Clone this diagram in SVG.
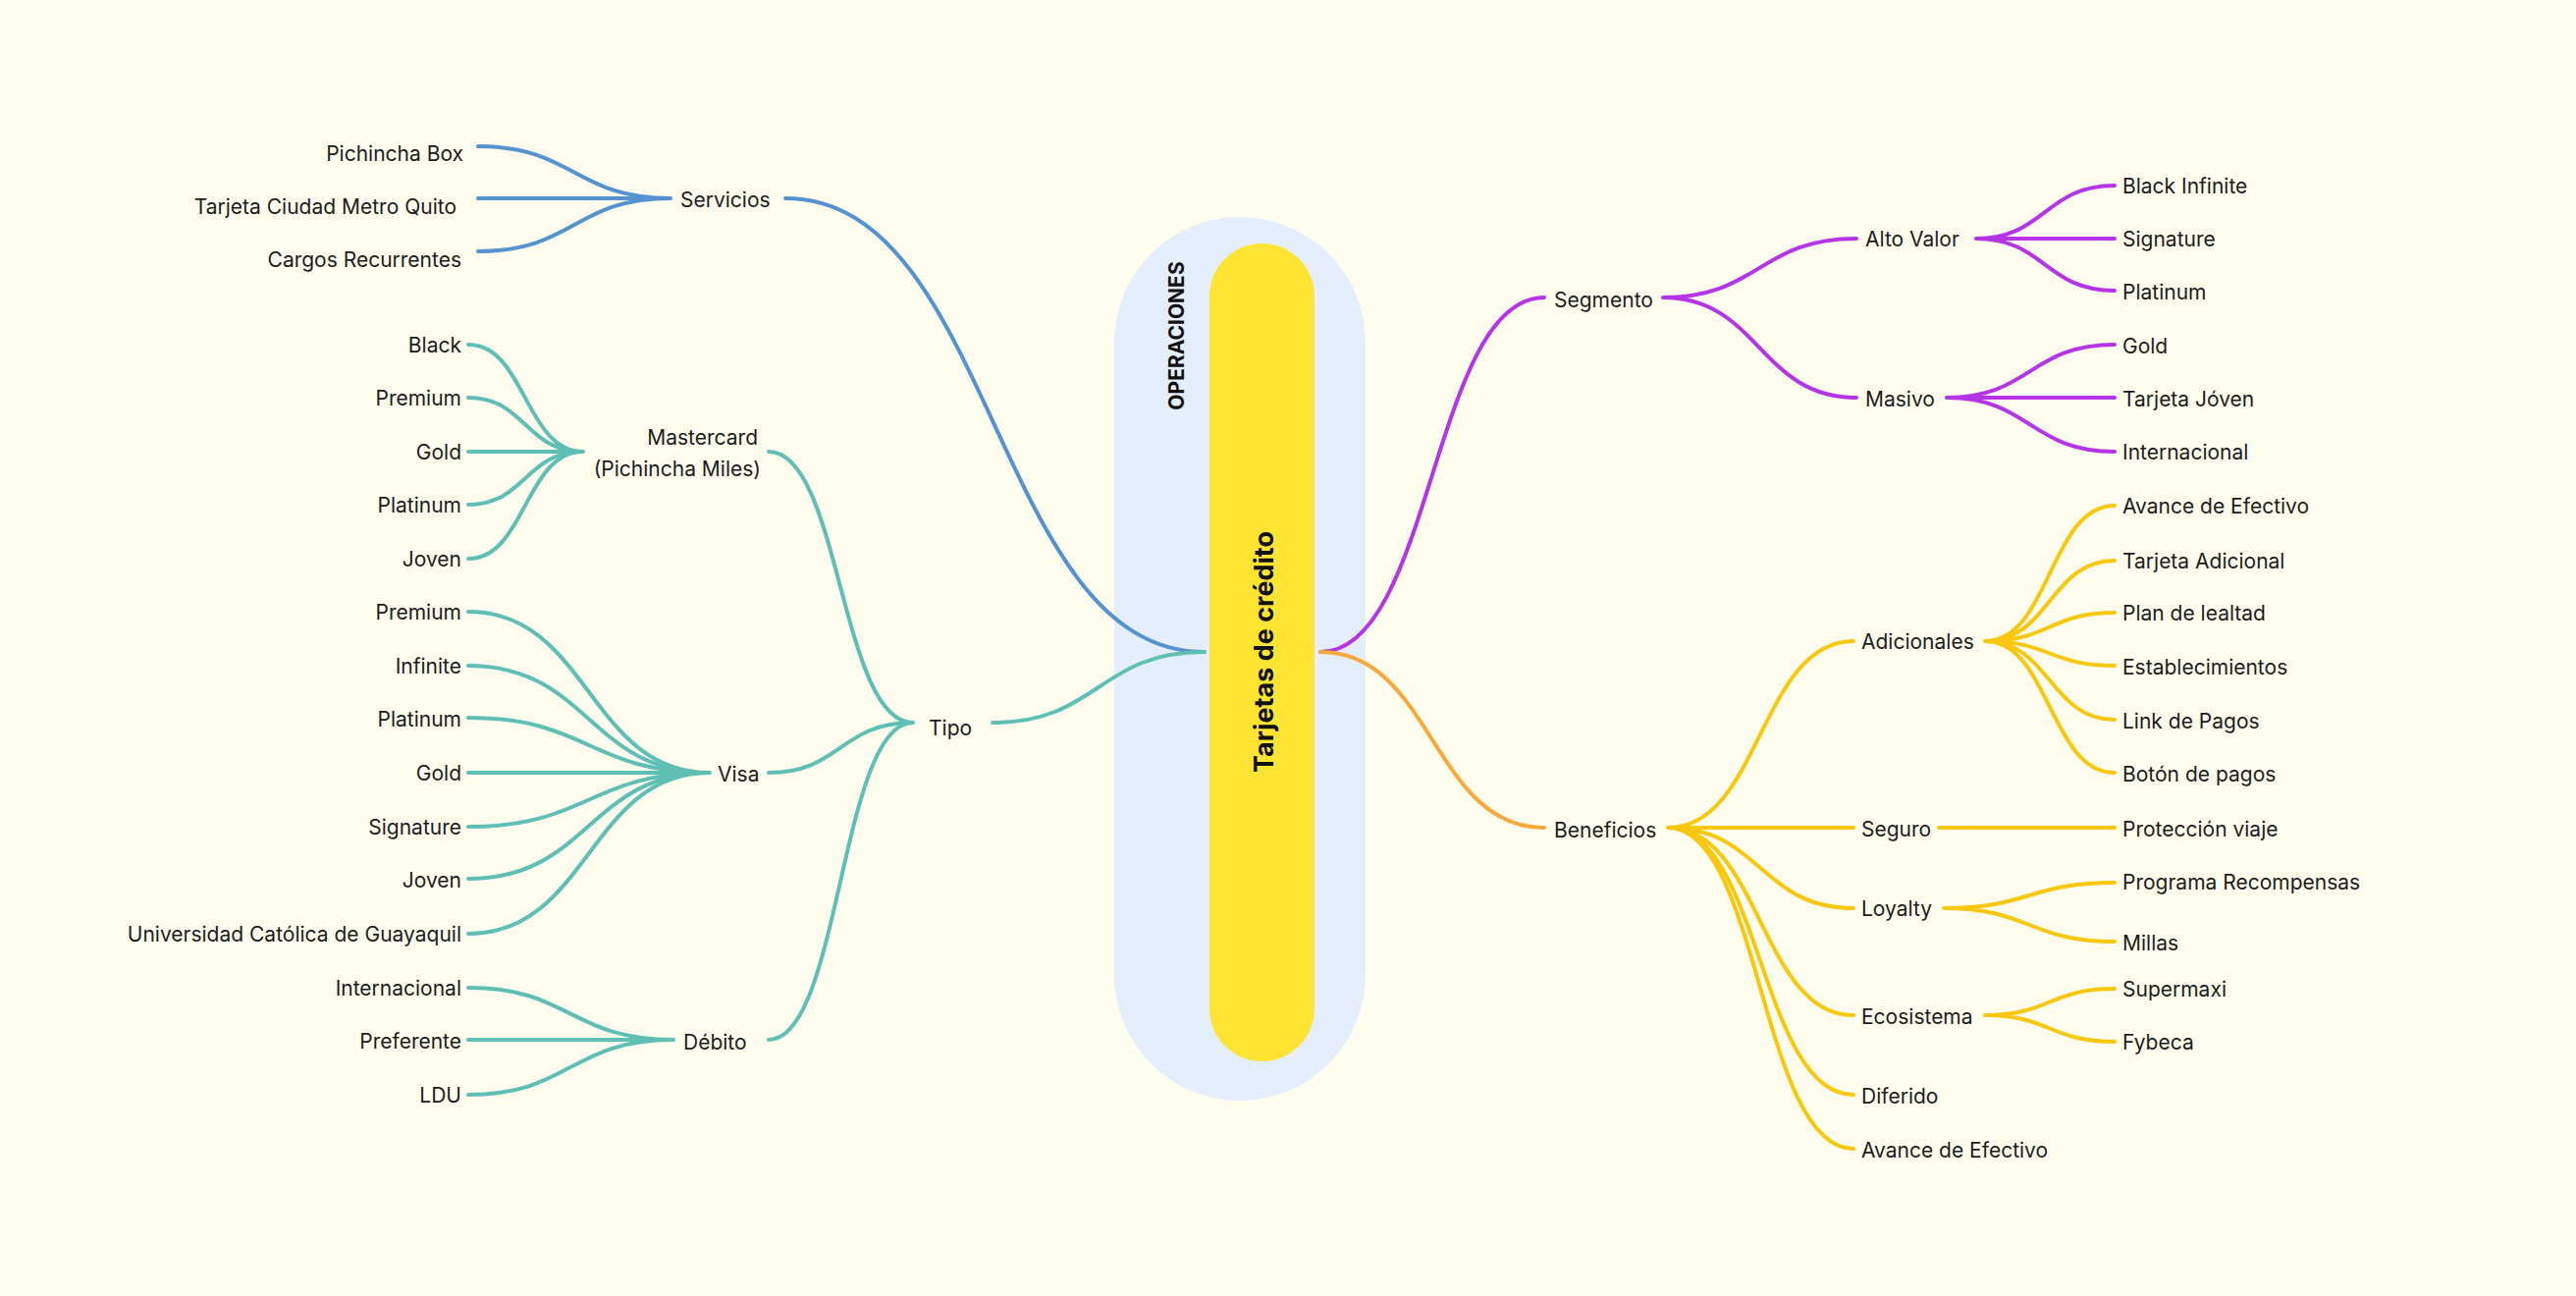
<svg xmlns="http://www.w3.org/2000/svg" width="2624" height="1320" viewBox="0 0 2624 1320">
<style>
.t{font-family:Inter,"Noto Sans","Liberation Sans",sans-serif;font-size:21px;fill:#1c1c1c;dominant-baseline:central}
.e{text-anchor:end}
path{fill:none;stroke-width:4;stroke-linecap:round}
.b{stroke:#5592D0}.g{stroke:#5FBFB5}.p{stroke:#B535E6}.o{stroke:#F9A93A}.y{stroke:#F9C80E}
</style>
<rect width="2624" height="1320" fill="#FEFDEE"/>
<g id="center">
<rect x="1135" y="221" width="256" height="900" rx="128" fill="#E5EEFC"/>
<rect x="1232" y="248" width="107" height="833" rx="53.5" fill="#FFE433"/>
<text transform="translate(1198,342) rotate(-90)" text-anchor="middle" dominant-baseline="central" font-family="Inter,'Liberation Sans',sans-serif" font-weight="700" font-size="21" fill="#111">OPERACIONES</text>
<text transform="translate(1287,664) rotate(-90)" text-anchor="middle" dominant-baseline="central" font-family="Inter,'Liberation Sans',sans-serif" font-weight="700" font-size="27" fill="#111">Tarjetas de crédito</text>
</g>
<g id="connectors">
<path class="b" d="M487 149C585 149 585 202 683 202M487 202H683M487 256C585 256 585 202 683 202M800 202C1013 202 1013 664 1227 664"/>
<path class="g" d="M477 351C535 351 535 460 594 460M477 405C535 405 535 460 594 460M477 460H594M477 514C535 514 535 460 594 460M477 569C535 569 535 460 594 460"/>
<path class="g" d="M477 623C600 623 600 787 723 787M477 678C600 678 600 787 723 787M477 731C600 731 600 787 723 787M477 787H723M477 842C600 842 600 787 723 787M477 895C600 895 600 787 723 787M477 951C600 951 600 787 723 787"/>
<path class="g" d="M477 1006C581 1006 581 1059 686 1059M477 1059H686M477 1115C581 1115 581 1059 686 1059"/>
<path class="g" d="M783 460C856 460 856 736 930 736M783 787C856 787 856 736 930 736M783 1059C856 1059 856 736 930 736M1011 736C1119 736 1119 664 1227 664"/>
<path class="p" d="M1345 664C1459 664 1459 303 1573 303M1694 303C1792 303 1792 243 1891 243M1694 303C1792 303 1792 405 1891 405M2013 243C2083 243 2083 189 2154 189M2013 243H2154M2013 243C2083 243 2083 296 2154 296M1983 405C2068 405 2068 351 2154 351M1983 405H2154M1983 405C2068 405 2068 460 2154 460"/>
<path class="o" d="M1345 664C1459 664 1459 843 1573 843"/>
<path class="y" d="M1699 843C1793 843 1793 653 1888 653M1699 843H1888M1699 843C1793 843 1793 925 1888 925M1699 843C1793 843 1793 1034 1888 1034M1699 843C1793 843 1793 1115 1888 1115M1699 843C1793 843 1793 1170 1888 1170"/>
<path class="y" d="M2022 653C2088 653 2088 515 2154 515M2022 653C2088 653 2088 571 2154 571M2022 653C2088 653 2088 624 2154 624M2022 653C2088 653 2088 678 2154 678M2022 653C2088 653 2088 733 2154 733M2022 653C2088 653 2088 787 2154 787M1975 843H2154M1980 925C2067 925 2067 899 2154 899M1980 925C2067 925 2067 959 2154 959M2022 1034C2088 1034 2088 1007 2154 1007M2022 1034C2088 1034 2088 1061 2154 1061"/>
</g>
<g id="servicios"><text class="t" x="693" y="203">Servicios</text>
<text class="t e" x="472" y="156">Pichincha Box</text><text class="t e" x="465" y="210">Tarjeta Ciudad Metro Quito</text><text class="t e" x="470" y="264">Cargos Recurrentes</text></g>
<g id="mastercard"><text class="t e" x="772" y="445">Mastercard</text><text class="t e" x="775" y="477">(Pichincha Miles)</text>
<text class="t e" x="470" y="351">Black</text><text class="t e" x="470" y="405">Premium</text><text class="t e" x="470" y="460">Gold</text><text class="t e" x="470" y="514">Platinum</text><text class="t e" x="470" y="569">Joven</text></g>
<g id="visa"><text class="t" x="731" y="788">Visa</text>
<text class="t e" x="470" y="623">Premium</text><text class="t e" x="470" y="678">Infinite</text><text class="t e" x="470" y="732">Platinum</text><text class="t e" x="470" y="787">Gold</text><text class="t e" x="470" y="842">Signature</text><text class="t e" x="470" y="896">Joven</text><text class="t e" x="470" y="951">Universidad Católica de Guayaquil</text></g>
<g id="debito"><text class="t" x="696" y="1061">Débito</text>
<text class="t e" x="470" y="1006">Internacional</text><text class="t e" x="470" y="1060">Preferente</text><text class="t e" x="470" y="1115">LDU</text></g>
<g id="tipo"><text class="t" x="946" y="741">Tipo</text></g>
<g id="segmento"><text class="t" x="1583" y="305">Segmento</text>
<text class="t" x="1900" y="243">Alto Valor</text><text class="t" x="1900" y="406">Masivo</text>
<text class="t" x="2162" y="189">Black Infinite</text><text class="t" x="2162" y="243">Signature</text><text class="t" x="2162" y="297">Platinum</text>
<text class="t" x="2162" y="352">Gold</text><text class="t" x="2162" y="406">Tarjeta Jóven</text><text class="t" x="2162" y="460">Internacional</text></g>
<g id="beneficios"><text class="t" x="1583" y="845">Beneficios</text>
<text class="t" x="1896" y="653">Adicionales</text><text class="t" x="1896" y="844">Seguro</text><text class="t" x="1896" y="925">Loyalty</text><text class="t" x="1896" y="1035">Ecosistema</text><text class="t" x="1896" y="1116">Diferido</text><text class="t" x="1896" y="1171">Avance de Efectivo</text>
<text class="t" x="2162" y="515">Avance de Efectivo</text><text class="t" x="2162" y="571">Tarjeta Adicional</text><text class="t" x="2162" y="624">Plan de lealtad</text><text class="t" x="2162" y="679">Establecimientos</text><text class="t" x="2162" y="734">Link de Pagos</text><text class="t" x="2162" y="788">Botón de pagos</text>
<text class="t" x="2162" y="844">Protección viaje</text><text class="t" x="2162" y="898">Programa Recompensas</text><text class="t" x="2162" y="960">Millas</text><text class="t" x="2162" y="1007">Supermaxi</text><text class="t" x="2162" y="1061">Fybeca</text></g>
</svg>
